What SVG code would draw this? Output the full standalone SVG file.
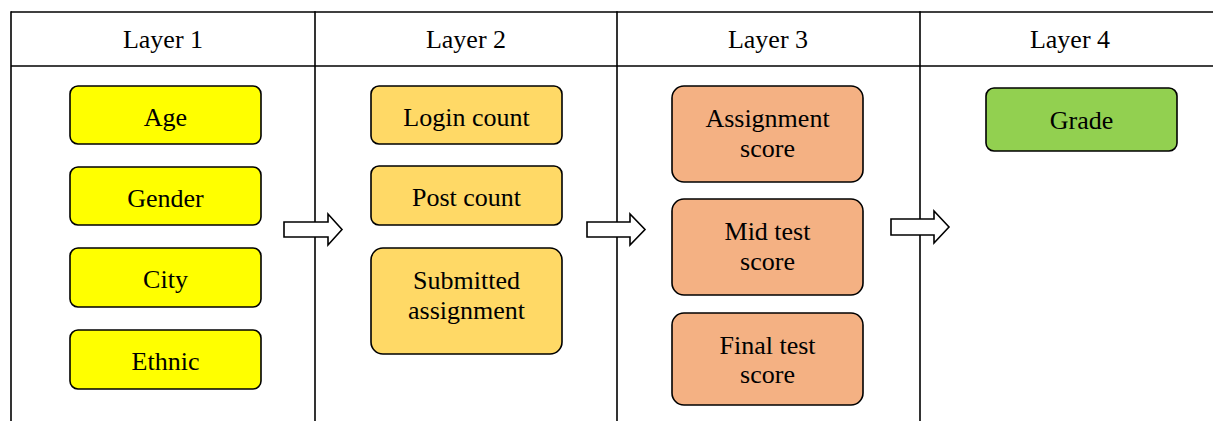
<svg xmlns="http://www.w3.org/2000/svg" width="1213" height="421" viewBox="0 0 1213 421">
<style>
.grid{stroke:#000;stroke-width:1.6;fill:none}
.box{stroke:#000;stroke-width:1.6}
.l1{fill:#FFFF00}.l2{fill:#FFD966}.l3{fill:#F4B183}.l4{fill:#92D050}
text{font-family:"Liberation Serif","Times New Roman",serif;font-size:26px;fill:#000;text-anchor:middle}
.arrow{fill:#fff;stroke:#000;stroke-width:1.6;stroke-linejoin:miter}
</style>
<rect width="1213" height="421" fill="#fff"/>
<g id="table">
<line class="grid" x1="11" y1="12" x2="1213" y2="12"/>
<line class="grid" x1="11" y1="66" x2="1213" y2="66"/>
<line class="grid" x1="11" y1="11.2" x2="11" y2="421"/>
<line class="grid" x1="315" y1="11.2" x2="315" y2="421"/>
<line class="grid" x1="617" y1="11.2" x2="617" y2="421"/>
<line class="grid" x1="920" y1="11.2" x2="920" y2="421"/>
<text x="163" y="48">Layer 1</text>
<text x="466" y="48">Layer 2</text>
<text x="768" y="48">Layer 3</text>
<text x="1070" y="48">Layer 4</text>
</g>
<g id="age"><rect class="box l1" x="70" y="86" width="191" height="58" rx="8"/><text x="165.5" y="125.5">Age</text></g>
<g id="gender"><rect class="box l1" x="70" y="167" width="191" height="58" rx="8"/><text x="165.5" y="206.5">Gender</text></g>
<g id="city"><rect class="box l1" x="70" y="248" width="191" height="59" rx="8"/><text x="165.5" y="288">City</text></g>
<g id="ethnic"><rect class="box l1" x="70" y="330" width="191" height="59" rx="8"/><text x="165.5" y="370">Ethnic</text></g>
<g id="login"><rect class="box l2" x="371" y="86" width="191" height="58" rx="8"/><text x="466.5" y="125.5">Login count</text></g>
<g id="post"><rect class="box l2" x="371" y="166" width="191" height="59" rx="8"/><text x="466.5" y="206">Post count</text></g>
<g id="submitted"><rect class="box l2" x="371" y="248" width="191" height="106" rx="12"/><text x="466.5" y="289">Submitted</text><text x="466.5" y="319">assignment</text></g>
<g id="assignscore"><rect class="box l3" x="672" y="86" width="191" height="96" rx="12"/><text x="767.5" y="127">Assignment</text><text x="767.5" y="157">score</text></g>
<g id="midtest"><rect class="box l3" x="672" y="199" width="191" height="96" rx="12"/><text x="767.5" y="240">Mid test</text><text x="767.5" y="270">score</text></g>
<g id="finaltest"><rect class="box l3" x="672" y="313" width="191" height="92" rx="12"/><text x="767.5" y="354">Final test</text><text x="767.5" y="383">score</text></g>
<g id="grade"><rect class="box l4" x="986" y="88" width="191" height="63" rx="8"/><text x="1081.5" y="129">Grade</text></g>
<g id="connectors">
<polygon class="arrow" points="284,222 328,222 328,214 342,229.5 328,245 328,237 284,237"/>
<polygon class="arrow" points="587,222 630,222 630,214 645,229.5 630,245 630,237 587,237"/>
<polygon class="arrow" points="891,219 934,219 934,211 949,227 934,243 934,235 891,235"/>
</g>
</svg>
